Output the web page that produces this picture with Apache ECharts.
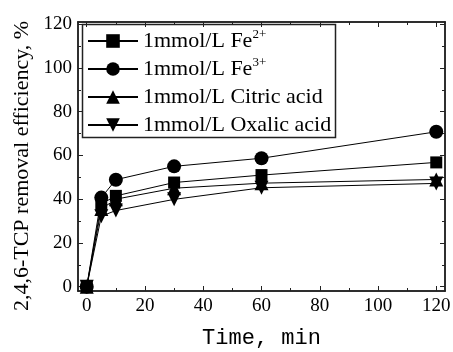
<!DOCTYPE html>
<html><head><meta charset="utf-8">
<script src="https://cdn.jsdelivr.net/npm/echarts@6/dist/echarts.min.js"></script>
<style>html,body{margin:0;padding:0;background:#fff}#c{width:453px;height:352px}</style>
</head><body><div id="c"></div>
<script>
const times = [0, 5, 10, 30, 60, 120];
const fe2 = [0, 37.8, 41.5, 47.6, 51.0, 56.8];
const fe3 = [0, 40.7, 48.9, 55.0, 58.7, 70.8];
const citric = [0, 35.5, 40.0, 45.0, 47.3, 49.0];
const oxalic = [0, 32.2, 34.8, 39.9, 45.2, 47.2];
const seriesNames = ['1mmol/L Fe2+', '1mmol/L Fe3+', '1mmol/L Citric acid', '1mmol/L Oxalic acid'];
const legendLabels = ['1mmol/L Fe{sup|2+}', '1mmol/L Fe{sup|3+}', '1mmol/L Citric acid', '1mmol/L Oxalic acid'];
const xTicks = [0, 20, 40, 60, 80, 100, 120];
const xMinor = [10, 30, 50, 70, 90, 110];
const yTicks = [0, 20, 40, 60, 80, 100, 120];
const yMinor = [10, 30, 50, 70, 90, 110];
const xTitle = 'Time, min';
const yTitle = '2,4,6-TCP removal efficiency, %';

const FONT = 'Liberation Serif';
const pairs = arr => times.map((t, i) => [t, arr[i]]);
const chart = echarts.init(document.getElementById('c'));
const grid = {left: 78, top: 22, right: 8, bottom: 61, outerBoundsMode: 'none', containLabel: false};
const axisLineStyle = {color: '#222', width: 1.5};
function xAxisDef(pos, withLabels, ticks, len) {
  return {
    type: 'value', position: pos, min: -3, max: 123,
    axisLine: {show: true, onZero: false, lineStyle: axisLineStyle},
    axisTick: {show: true, inside: true, length: len, customValues: ticks, lineStyle: {color: '#222', width: 1}},
    axisLabel: {show: withLabels, customValues: xTicks, fontFamily: FONT, fontSize: 19, color: '#000', margin: 6},
    splitLine: {show: false},
    name: (withLabels ? xTitle : ''), nameLocation: 'middle', nameGap: 36,
    nameTextStyle: {fontFamily: 'Liberation Mono', fontSize: 22, color: '#000'}
  };
}
function yAxisDef(pos, withLabels, ticks, len) {
  return {
    type: 'value', position: pos, min: -2, max: 121,
    axisLine: {show: true, onZero: false, lineStyle: axisLineStyle},
    axisTick: {show: true, inside: true, length: len, customValues: ticks, lineStyle: {color: '#222', width: 1}},
    axisLabel: {show: withLabels, customValues: yTicks, fontFamily: FONT, fontSize: 19, color: '#000', margin: 6},
    splitLine: {show: false}
  };
}
const symbols = ['rect', 'circle', 'triangle', 'triangle'];
const sizes = [12, 14, 14, 14];
const rotates = [0, 0, 0, 180];
const datas = [fe2, fe3, citric, oxalic];
const series = datas.map((d, i) => ({
  name: seriesNames[i], type: 'line', xAxisIndex: 0, yAxisIndex: 0,
  data: pairs(d), symbol: symbols[i], symbolSize: sizes[i], symbolRotate: rotates[i],
  showAllSymbol: true,
  lineStyle: {color: '#000', width: 1}, itemStyle: {color: '#000'},
  emphasis: {disabled: true}, animation: false
}));
chart.setOption({
  animation: false,
  grid: grid,
  xAxis: [
    xAxisDef('bottom', true, xTicks, 5),
    xAxisDef('bottom', false, xMinor, 3),
    xAxisDef('top', false, xTicks, 5),
    xAxisDef('top', false, xMinor, 3)
  ],
  yAxis: [
    yAxisDef('left', true, yTicks, 5),
    yAxisDef('left', false, yMinor, 3),
    yAxisDef('right', false, yTicks, 5),
    yAxisDef('right', false, yMinor, 3)
  ],
  legend: {
    orient: 'vertical', left: 87, top: 27, padding: 0, itemGap: 0,
    itemWidth: 50, itemHeight: 17, itemTextGap: 6,
    data: seriesNames,
    formatter: name => legendLabels[seriesNames.indexOf(name)],
    textStyle: {fontFamily: FONT, fontSize: 22, color: '#000', lineHeight: 28,
      rich: {sup: {fontFamily: FONT, fontSize: 13, color: '#000', lineHeight: 28, padding: [0, 0, 12, 0]}}},
    selectedMode: false
  },
  graphic: [
    {type: 'rect', shape: {x: 82.5, y: 24.5, width: 253, height: 113}, style: {fill: 'none', stroke: '#222', lineWidth: 1.5}, z: 10},
    {type: 'text', x: 22, y: 166, rotation: Math.PI / 2,
     style: {text: yTitle, font: '22px "Liberation Serif"', fill: '#000', align: 'center', verticalAlign: 'middle'}}
  ],
  series: series
});
</script></body></html>
